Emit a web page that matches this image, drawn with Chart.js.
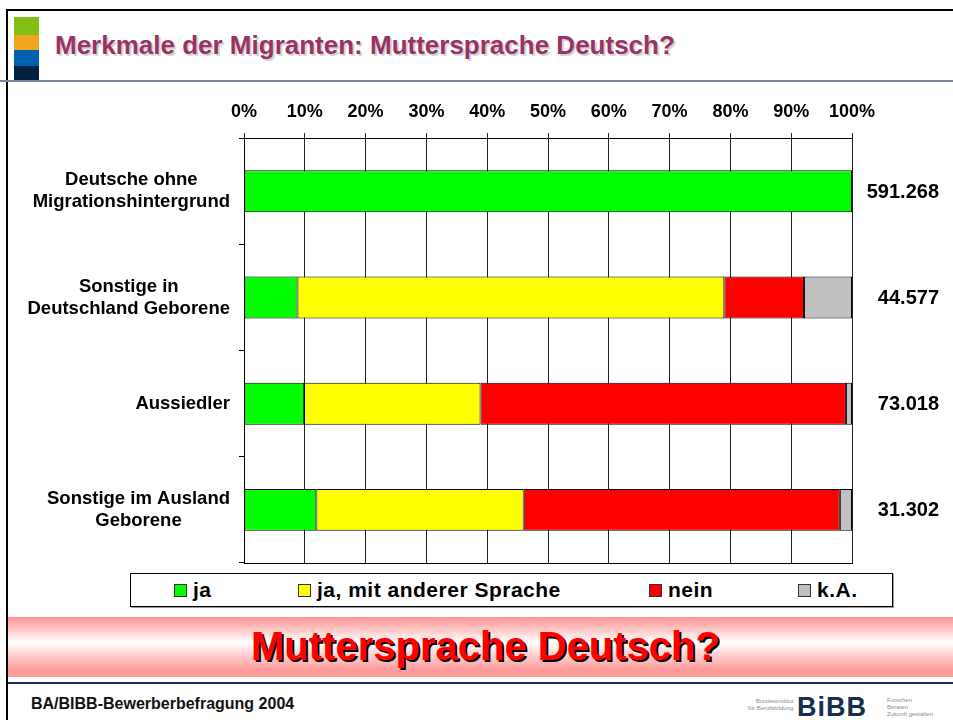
<!DOCTYPE html>
<html>
<head>
<meta charset="utf-8">
<script src="https://cdn.jsdelivr.net/npm/chart.js@4.4.1/dist/chart.umd.min.js"></script>
<style>
  body { margin: 0; width: 953px; height: 720px; overflow: hidden; background: #fff;
         font-family: "Liberation Sans", Arial, sans-serif; position: relative; }
  .abs { position: absolute; }
  #frameTop { left: 6px; top: 9px; width: 947px; height: 2px; background: #000; }
  #frameLeft { left: 6px; top: 9px; width: 2px; height: 711px; background: #000; }
  .blk { left: 14px; width: 25px; }
  #title { left: 55px; top: 30px; font-size: 26px; font-weight: bold; color: #993366;
           white-space: nowrap; line-height: 30px; text-shadow: 2px 2px 1px rgba(0,0,0,0.18); }
  #titleRule { left: 0; top: 80px; width: 953px; height: 2px; background: #7a849a; }
  #chartBox { left: 0; top: 90px; }
  #legend { left: 130px; top: 573px; width: 761px; height: 32px; border: 1px solid #000;
            box-shadow: 1px 1px 0 #999; background: #fff; }
  .item { position: absolute; top: 0; height: 32px; display: flex; align-items: center;
          font-weight: bold; font-size: 21px; letter-spacing: 0.5px; white-space: nowrap; }
  .sw { width: 11px; height: 11px; border: 1px solid #333; margin-right: 6px; }
  #banner { left: 8px; top: 617px; width: 945px; height: 60px;
            background: linear-gradient(#ff9393 0%, #ffc4c4 20%, #fff 42%, #ffd2d2 62%, #ff9c9c 88%, #ff9999 100%);
            text-align: center; font-size: 40px; font-weight: bold; color: #ff0000;
            line-height: 58px; text-shadow: 2px 2px 0 #000; padding-left: 10px; box-sizing: border-box; }
  #footRule { left: 8px; top: 682px; width: 945px; height: 2px; background: #1f2f5a; }
  #footer { left: 31px; top: 695px; font-size: 16px; font-weight: bold; color: #111; }
  #logo { left: 797px; top: 692px; font-size: 27px; font-weight: bold; color: #15304f; letter-spacing: 1px; }
  .tiny { font-size: 6px; color: #8a8f99; line-height: 7px; }
</style>
</head>
<body>
<div class="abs" id="frameTop"></div>
<div class="abs" id="frameLeft"></div>
<div class="abs blk" style="top:17px;height:18px;background:#84bf17"></div>
<div class="abs blk" style="top:35px;height:15px;background:#efa51e"></div>
<div class="abs blk" style="top:50px;height:16px;background:#0060b0"></div>
<div class="abs blk" style="top:66px;height:15px;background:#00213f"></div>
<div class="abs" id="title">Merkmale der Migranten: Muttersprache Deutsch?</div>
<div class="abs" id="titleRule"></div>

<div class="abs" id="chartBox"><canvas id="sprachChart" width="953" height="480"></canvas></div>

<div class="abs" id="legend"></div>
<div class="abs" id="banner">Muttersprache Deutsch?</div>
<div class="abs" id="footRule"></div>
<div class="abs" id="footer">BA/BIBB-Bewerberbefragung 2004</div>
<div class="abs tiny" style="left:748px;top:698px;text-align:right">Bundesinstitut<br>für Berufsbildung</div>
<div class="abs" id="logo">BiBB</div>
<div class="abs tiny" style="left:887px;top:697px">Forschen<br>Beraten<br>Zukunft gestalten</div>

<script>
// ========== Daten ==========
const categories = [
  ['Deutsche ohne', 'Migrationshintergrund'],
  ['Sonstige in', 'Deutschland Geborene'],
  ['Aussiedler'],
  ['Sonstige im Ausland', 'Geborene']
];
const seriesNames = ['ja', 'ja, mit anderer Sprache', 'nein', 'k.A.'];
const seriesColors = ['#00ff00', '#ffff00', '#ff0000', '#c0c0c0'];

// Anteile in %
const jaValues       = [100, 8.8, 9.9, 11.9];
const jaAndereValues = [0, 70.2, 29.0, 34.1];
const neinValues     = [0, 13.1, 60.1, 52.0];
const kaValues       = [0, 7.9, 1.0, 2.0];

// Fallzahlen rechts neben den Balken
const totals = [591268, 44577, 73018, 31302];

// Achse oben
const xTickValues = [0, 10, 20, 30, 40, 50, 60, 70, 80, 90, 100];

const FONT = '"Liberation Sans", Arial, sans-serif';

function formatDe(n) {
  return String(n).replace(/\B(?=(\d{3})+(?!\d))/g, '.');
}

// ========== Legende ==========
const legendLeft = [43, 167, 518, 667];
const legendBox = document.getElementById('legend');
seriesNames.forEach((name, i) => {
  const item = document.createElement('div');
  item.className = 'item';
  item.style.left = legendLeft[i] + 'px';
  item.innerHTML = `<span class="sw" style="background:${seriesColors[i]}"></span>${name}`;
  legendBox.appendChild(item);
});

// ========== Beschriftungen links und rechts ==========
const sideText = {
  id: 'sideText',
  afterDraw(chart) {
    const { ctx, chartArea, scales: { y } } = chart;
    ctx.save();
    ctx.fillStyle = '#000';
    ctx.textBaseline = 'middle';
    ctx.textAlign = 'center';
    ctx.font = 'bold 18.5px ' + FONT;
    categories.forEach((lines, i) => {
      const cy = y.getPixelForValue(i);
      const w = Math.max(...lines.map(l => ctx.measureText(l).width));
      const cx = chartArea.left - 14 - w / 2;
      lines.forEach((l, k) => {
        ctx.fillText(l, cx, cy + (k - (lines.length - 1) / 2) * 22);
      });
    });
    ctx.textAlign = 'right';
    ctx.font = 'bold 20px ' + FONT;
    totals.forEach((n, i) => {
      ctx.fillText(formatDe(n), chartArea.right + 87, y.getPixelForValue(i) + 1);
    });
    ctx.restore();
  }
};

const datasetValues = [jaValues, jaAndereValues, neinValues, kaValues];

const ctx = document.getElementById('sprachChart').getContext('2d');
new Chart(ctx, {
  type: 'bar',
  data: {
    labels: categories,
    datasets: datasetValues.map((vals, i) => ({
      label: seriesNames[i],
      data: vals,
      backgroundColor: seriesColors[i],
      borderColor: '#000',
      borderWidth: 1,
      borderSkipped: false,
      barPercentage: 0.395,
      categoryPercentage: 1
    }))
  },
  options: {
    indexAxis: 'y',
    responsive: false,
    animation: false,
    layout: { padding: { left: 239, right: 101, top: 1.5, bottom: 7 } },
    plugins: {
      legend: { display: false },
      tooltip: { enabled: false }
    },
    scales: {
      x: {
        position: 'top',
        stacked: true,
        min: 0,
        max: 100,
        afterBuildTicks: scale => { scale.ticks = xTickValues.map(v => ({ value: v })); },
        ticks: {
          padding: 10,
          color: '#000',
          font: { family: FONT, size: 18, weight: 'bold' },
          callback: v => v + '%'
        },
        grid: { color: '#222', lineWidth: 1, tickLength: 5 },
        border: { color: '#000', width: 1 }
      },
      xb: {
        type: 'linear',
        position: 'bottom',
        min: 0,
        max: 100,
        ticks: { display: false },
        grid: { display: false, drawTicks: false },
        border: { display: true, color: '#000', width: 1 }
      },
      y: {
        stacked: true,
        ticks: { display: false },
        grid: { drawOnChartArea: false, tickLength: 5, color: '#000' },
        border: { color: '#000', width: 1 },
        afterFit: scale => { scale.width = 5; }
      }
    }
  },
  plugins: [sideText]
});
</script>
</body>
</html>
